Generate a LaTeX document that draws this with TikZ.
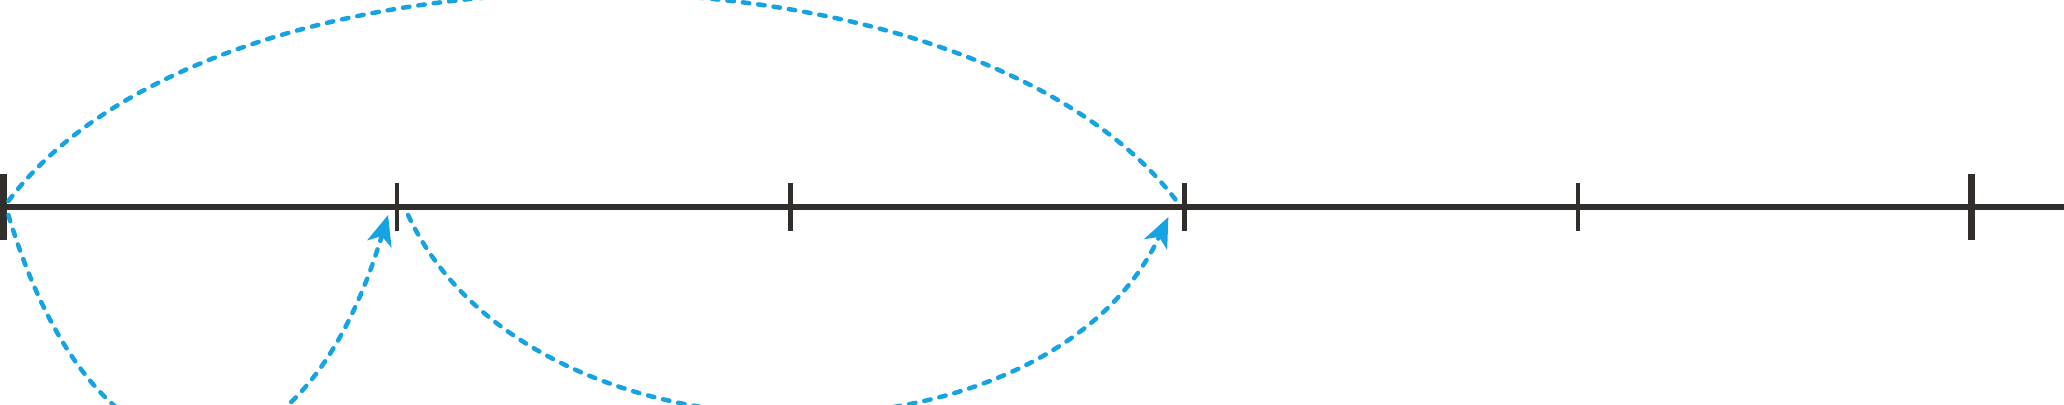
\documentclass[tikz,border=0pt]{standalone}
\usepackage{xcolor}
\usepackage{tikz}
\usetikzlibrary{arrows.meta}

\definecolor{axisgray}{RGB}{50,46,43}
\definecolor{hopblue}{RGB}{22,163,226}

\begin{document}
\begin{tikzpicture}[
  axis line/.style={draw=axisgray, line width=0.65mm},
  small tick/.style={draw=axisgray, line width=0.45mm},
  big tick/.style={draw=axisgray, line width=0.67mm},
  hop/.style={draw=hopblue, line width=0.45mm, line cap=round, dash pattern=on 0.65mm off 0.9mm},
  hop tip/.style={-{Stealth[length=3mm, width=2.5mm, inset=0.8mm]}}
]

  \useasboundingbox (0,-1.97) rectangle (20.64,2.07);
  \clip (0,-1.97) rectangle (20.64,2.07);

  % points on the line
  \foreach \i in {0,...,5}
    \coordinate (t\i) at (0.034+3.9366*\i, 0);
  \coordinate (tend) at (20.64,0);

  \draw[axis line] (t0) -- (tend);
  \foreach \i in {1,...,4}
    \draw[small tick] ([yshift=-2.4mm]t\i) -- ([yshift=2.4mm]t\i);
  \foreach \i in {0,5}
    \draw[big tick] ([yshift=-3.3mm]t\i) -- ([yshift=3.3mm]t\i);

  % hops
  \draw[hop] ([shift={(0.05,0.06)}]t0)
    .. controls +(2.1,2.78) and +(-2.1,2.78) .. ([shift={(-0.07,0.05)}]t3);
  \draw[hop, hop tip] ([shift={(0.05,-0.08)}]t0)
    .. controls +(0.9,-3.0) and +(-0.9,-3.0) .. ([shift={(-0.09,-0.08)}]t1);
  \draw[hop, hop tip] ([shift={(0.11,-0.08)}]t1)
    .. controls +(1.22,-2.62) and +(-1.22,-2.62) .. ([shift={(-0.16,-0.10)}]t3);

\end{tikzpicture}
\end{document}
